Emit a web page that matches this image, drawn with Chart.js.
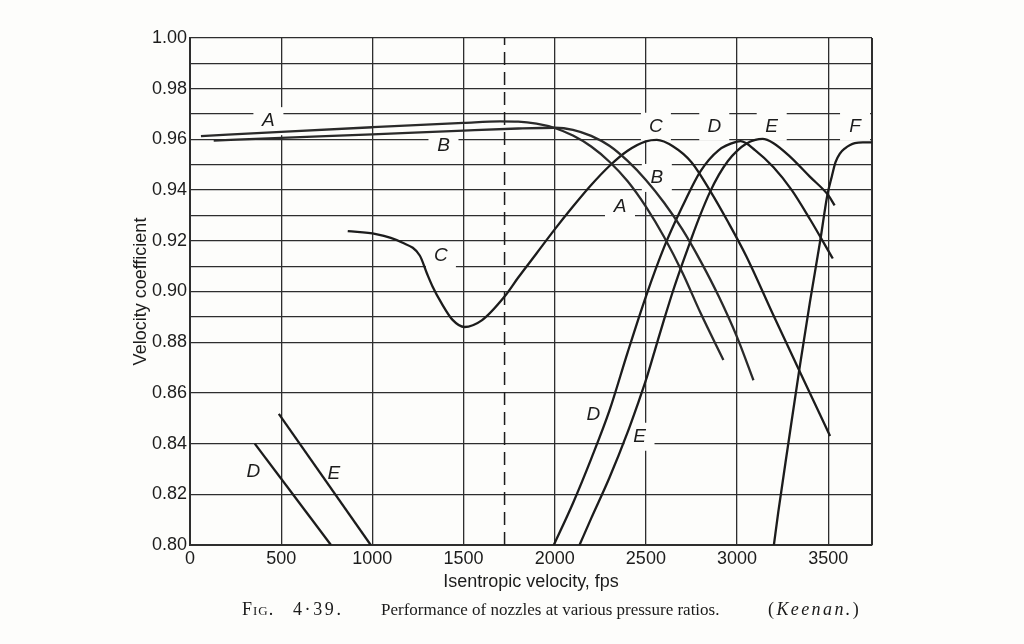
<!DOCTYPE html>
<html><head><meta charset="utf-8">
<script src="https://cdn.jsdelivr.net/npm/chart.js@4.4.1/dist/chart.umd.min.js"></script>
<style>
html,body{margin:0;padding:0;background:#fdfdfb;}
#wrap{position:relative;width:1024px;height:644px;overflow:hidden;}
canvas{position:absolute;left:0;top:0;}
.cap{position:absolute;top:600px;font-family:'Liberation Serif','DejaVu Serif',serif;font-size:17px;color:#1a1a1a;white-space:nowrap;}
</style></head><body>
<div id="wrap"><canvas id="c" width="1024" height="644"></canvas>
<div class="cap" style="left:242px;font-size:18px;letter-spacing:1px;font-variant:small-caps;top:599px">Fig.</div>
<div class="cap" style="left:293px;font-size:18px;letter-spacing:2.6px;top:599px">4·39.</div>
<div class="cap" style="left:381px">Performance of nozzles at various pressure ratios.</div>
<div class="cap" style="left:768px;font-size:18px;letter-spacing:2.4px;top:599px">(<i>Keenan.</i>)</div>
</div>
<script>
// ---- data ----
const xMin = 0, xMax = 3740, yMin = 0.80, yMax = 1.00;
const xTicks = [0, 500, 1000, 1500, 2000, 2500, 3000, 3500];
const dashX = 1725;

const aX = [60, 500, 1000, 1500, 1700, 1800, 1900, 2000, 2100, 2200, 2300, 2400, 2500, 2600, 2700, 2800, 2925];
const aY = [0.9613, 0.9630, 0.9648, 0.9665, 0.9671, 0.9670, 0.9662, 0.9645, 0.9615, 0.9572, 0.9512, 0.9435, 0.9335, 0.9215, 0.9075, 0.8915, 0.8730];

const bX = [130, 500, 1000, 1500, 1800, 2000, 2100, 2200, 2300, 2400, 2500, 2600, 2700, 2800, 2900, 3000, 3090];
const bY = [0.9595, 0.9606, 0.9620, 0.9635, 0.9643, 0.9646, 0.9638, 0.9614, 0.9575, 0.9515, 0.9440, 0.9350, 0.9245, 0.9120, 0.8980, 0.8820, 0.8650];

const cX = [865, 1020, 1160, 1260, 1300, 1330, 1380, 1440, 1505, 1600, 1725, 1800, 1900, 2000, 2100, 2200, 2300, 2400, 2500, 2560, 2650, 2750, 2850, 2950, 3050, 3200, 3350, 3510];
const cY = [0.9238, 0.9226, 0.9194, 0.9142, 0.9070, 0.9020, 0.8953, 0.8888, 0.8860, 0.8886, 0.8980, 0.9055, 0.9150, 0.9245, 0.9335, 0.9420, 0.9495, 0.9555, 0.9592, 0.9598, 0.9572, 0.9510, 0.9400, 0.9275, 0.9140, 0.8905, 0.8675, 0.8430];

const dX = [1995, 2100, 2200, 2300, 2400, 2500, 2600, 2700, 2800, 2900, 3000, 3020, 3100, 3200, 3300, 3400, 3525];
const dY = [0.800, 0.8165, 0.834, 0.853, 0.876, 0.898, 0.9175, 0.9335, 0.9475, 0.9558, 0.9591, 0.9593, 0.9557, 0.9490, 0.9400, 0.9285, 0.9130];
const dLowX = [355, 773];
const dLowY = [0.840, 0.800];

const eX = [2136, 2200, 2300, 2400, 2450, 2500, 2550, 2600, 2650, 2700, 2750, 2800, 2850, 2900, 2950, 3000, 3050, 3100, 3140, 3200, 3289, 3399, 3500, 3535];
const eY = [0.800, 0.8105, 0.8265, 0.8445, 0.8545, 0.8650, 0.8770, 0.8890, 0.9005, 0.9110, 0.9210, 0.9305, 0.9390, 0.9460, 0.9515, 0.9555, 0.9583, 0.9598, 0.9602, 0.9585, 0.9533, 0.9453, 0.9380, 0.9340];
const eLowX = [487, 991];
const eLowY = [0.8517, 0.800];

const fX = [3202, 3226, 3281, 3343, 3400, 3456, 3495, 3520, 3540, 3565, 3592, 3620, 3646, 3690, 3740];
const fY = [0.800, 0.813, 0.840, 0.870, 0.896, 0.920, 0.938, 0.9455, 0.951, 0.9545, 0.9565, 0.9578, 0.9585, 0.9588, 0.9588];

// curve letters placed on the figure
const labelText = ['A', 'B', 'C', 'D', 'E', 'F', 'C', 'B', 'A', 'D', 'E', 'D', 'E'];
const labelX = [430, 1390, 2555, 2875, 3190, 3647, 1376, 2560, 2358, 2212, 2465, 347, 789];
const labelY = [0.9672, 0.9575, 0.9650, 0.9650, 0.9650, 0.9650, 0.9140, 0.9448, 0.9336, 0.8515, 0.8427, 0.8290, 0.8280];

// ---- drawing ----
const INK = '#1c1c1c', GRID = '#2e2e2e', BG = '#fdfdfb';
const pts = (xs, ys) => xs.map((x, i) => ({x, y: ys[i]}));
const curve = (xs, ys, color) => ({
  data: pts(xs, ys), borderColor: color, borderWidth: 2.3, pointRadius: 0,
  fill: false, cubicInterpolationMode: 'monotone'
});

const labelPlugin = {
  id: 'curveLabels',
  beforeDatasetsDraw(chart) {
    const {ctx, chartArea, scales: {x, y}} = chart;
    ctx.save();
    // right frame line
    ctx.strokeStyle = GRID; ctx.lineWidth = 2;
    const rx = x.getPixelForValue(xMax);
    ctx.beginPath(); ctx.moveTo(rx, chartArea.top); ctx.lineTo(rx, chartArea.bottom); ctx.stroke();
    ctx.font = 'italic 19px "Liberation Sans", Arial, sans-serif';
    ctx.textAlign = 'center'; ctx.textBaseline = 'middle';
    labelText.forEach((t, i) => {
      const px = x.getPixelForValue(labelX[i]), py = y.getPixelForValue(labelY[i]);
      ctx.fillStyle = BG; ctx.fillRect(px - 15, py - 14, 30, 28);
      ctx.fillStyle = INK; ctx.fillText(t, px, py);
    });
    ctx.restore();
  }
};

const tickFont = {family: '"Liberation Sans", Arial, sans-serif', size: 18};

new Chart(document.getElementById('c'), {
  type: 'line',
  data: {
    datasets: [
      curve(aX, aY, '#2a2a2a'),
      curve(bX, bY, '#2a2a2a'),
      curve(cX, cY, INK),
      curve(dX, dY, INK),
      curve(dLowX, dLowY, INK),
      curve(eX, eY, INK),
      curve(eLowX, eLowY, INK),
      curve(fX, fY, INK),
      {data: [{x: dashX, y: yMin}, {x: dashX, y: yMax}], borderColor: INK, borderWidth: 1.5,
       borderDash: [13, 7], pointRadius: 0, fill: false}
    ]
  },
  options: {
    responsive: false, animation: false, devicePixelRatio: 1,
    layout: {padding: {left: 126, top: 38, right: 152, bottom: 47}},
    plugins: {legend: {display: false}, tooltip: {enabled: false}},
    scales: {
      x: {
        type: 'linear', min: xMin, max: xMax,
        afterFit(s) { s.height = 52; },
        afterBuildTicks(s) { s.ticks = xTicks.map(v => ({value: v})); },
        ticks: {autoSkip: false, maxRotation: 0, padding: 3, color: INK, font: tickFont,
                callback: v => String(v)},
        grid: {color: GRID, lineWidth: 1.3, drawTicks: false},
        border: {color: GRID, width: 2},
        title: {display: true, text: 'Isentropic velocity, fps', color: INK, font: tickFont, padding: 4}
      },
      y: {
        min: yMin, max: yMax,
        afterFit(s) { s.width = 64; },
        ticks: {stepSize: 0.01, autoSkip: false, padding: 3, color: INK, font: tickFont,
                callback: v => { const n = Math.round(v * 100); return n % 2 === 0 ? (n / 100).toFixed(2) : ''; }},
        grid: {
          color: c => { const n = Math.round(c.tick.value * 100); return (n < 88 && n % 2) ? 'rgba(0,0,0,0)' : GRID; },
          lineWidth: 1.3, drawTicks: false
        },
        border: {color: GRID, width: 2},
        title: {display: true, text: 'Velocity coefficient', color: INK, font: tickFont, padding: 4}
      }
    }
  },
  plugins: [labelPlugin]
});
</script>
</body></html>
